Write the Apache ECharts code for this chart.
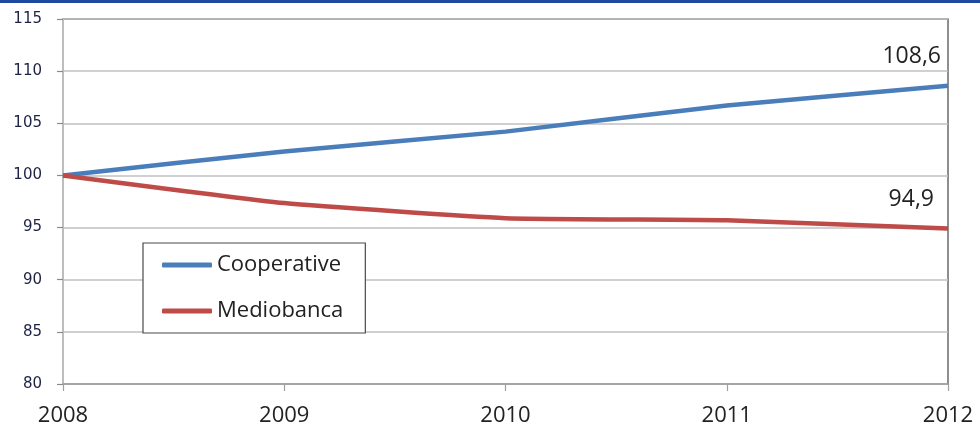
<!DOCTYPE html>
<html>
<head>
<meta charset="utf-8">
<script src="https://cdn.jsdelivr.net/npm/echarts@6/dist/echarts.min.js"></script>
<style>html,body{margin:0;padding:0;background:#fff}#c{width:980px;height:428px}</style>
</head>
<body>
<div id="c"></div>
<script>
var years = ['2008', '2009', '2010', '2011', '2012'];
var cooperative = [100, 102.3, 104.2, 106.7, 108.6];
var mediobanca = [100, 97.35, 95.9, 95.7, 94.9];
var yTicks = [80, 85, 90, 95, 100, 105, 110, 115];

var chart = echarts.init(document.getElementById('c'), null, {renderer: 'canvas'});
function fmt(p) { return Number(p.value).toFixed(1).replace('.', ','); }
chart.setOption({
  animation: false,
  backgroundColor: '#fff',
  graphic: [{type: 'rect', shape: {x: 0, y: 0, width: 980, height: 3}, style: {fill: '#1d4a9e'}, z: 100}],
  grid: {left: 63, right: 32, top: 19, bottom: 44, show: true, borderColor: '#6a6a6a', borderWidth: 1.5, outerBoundsMode: 'none'},
  legend: {
    orient: 'vertical', left: 143, top: 243,
    backgroundColor: '#fff', borderColor: '#4a4a4a', borderWidth: 1.2,
    padding: [10, 22, 10, 19], itemGap: 22, itemWidth: 50, itemHeight: 5,
    icon: 'roundRect',
    textStyle: {fontFamily: 'Open Sans', fontSize: 22, color: '#222', lineHeight: 24},
    data: ['Cooperative', 'Mediobanca']
  },
  xAxis: {
    type: 'category', data: years, boundaryGap: false,
    axisLine: {lineStyle: {color: '#a0a0a0', width: 1.5}},
    axisTick: {show: true, length: 7, alignWithLabel: true, lineStyle: {color: '#a0a0a0', width: 1.2}},
    axisLabel: {fontFamily: 'Open Sans', fontSize: 22, color: '#222', margin: 21, interval: 0},
    splitLine: {show: false}
  },
  yAxis: {
    type: 'value', min: 80, max: 115, interval: 5,
    axisLine: {show: true, lineStyle: {color: '#bdbdbd', width: 2}},
    axisTick: {show: true, length: 6, lineStyle: {color: '#8a8a8a', width: 1.2}},
    axisLabel: {fontFamily: 'DejaVu Sans', fontSize: 15, color: '#1e2242', margin: 21,
      formatter: function (v) { return yTicks.indexOf(v) >= 0 ? String(v) : ''; }},
    splitLine: {show: true, lineStyle: {color: '#c0c0c0', width: 1.5}}
  },
  series: [
    {name: 'Cooperative', type: 'line', data: cooperative, smooth: 0.15, symbol: 'none',
      lineStyle: {color: '#4a7ebb', width: 4.5}, itemStyle: {color: '#4a7ebb'},
      endLabel: {show: true, formatter: fmt, fontFamily: 'Open Sans', fontSize: 23, color: '#222',
        align: 'right', verticalAlign: 'middle', distance: 0, offset: [-7, -29]}},
    {name: 'Mediobanca', type: 'line', data: mediobanca, smooth: 0.15, symbol: 'none',
      lineStyle: {color: '#be4b48', width: 4.5}, itemStyle: {color: '#be4b48'},
      endLabel: {show: true, formatter: fmt, fontFamily: 'Open Sans', fontSize: 23, color: '#222',
        align: 'right', verticalAlign: 'middle', distance: 0, offset: [-14, -29]}}
  ]
});
</script>
</body>
</html>
